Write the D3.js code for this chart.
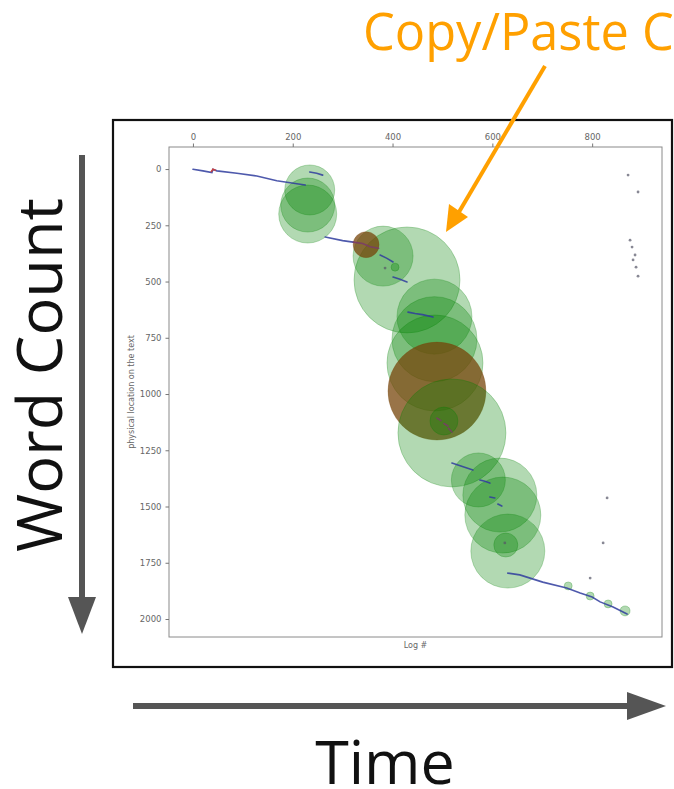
<!DOCTYPE html>
<html>
<head>
<meta charset="utf-8">
<script src="https://cdn.jsdelivr.net/npm/d3@7"></script>
<style>
html,body{margin:0;padding:0;background:#fff;}
svg{display:block;}
</style>
</head>
<body>
<svg id="chart" width="674" height="789"></svg>
<script>
// ---------- data ----------
const xTicks = [0, 200, 400, 600, 800];
const yTicks = [0, 250, 500, 750, 1000, 1250, 1500, 1750, 2000];
const xLabel = "Log #";
const yLabel = "physical location on the text";

// paste events: log #, location, size (chars), kind
const pasteLog  = [234, 230, 230, 381, 429, 484, 484, 485, 347, 489, 519, 503, 572, 615, 621, 631, 627, 405, 752, 796, 832, 866];
const pastePos  = [93, 160, 200, 387, 493, 656, 756, 862, 336, 987, 1173, 1120, 1382, 1449, 1538, 1698, 1671, 436, 1853, 1898, 1933, 1964];
const pasteSize = [625, 729, 841, 900, 2809, 1406, 1806, 2304, 169, 2401, 2916, 196, 729, 1369, 1444, 1369, 144, 16, 16, 16, 16, 25];
const pasteKind = ["internal","internal","internal","internal","internal","internal","internal","internal","external","external","internal","internal","internal","internal","internal","internal","internal","internal","internal","internal","internal","internal"];

// typing trace segments (log #, location)
const traceLog = [
  [0, 20, 38, 40, 48, 88, 128, 168, 225],
  [234, 248, 260],
  [265, 300, 321],
  [321, 340, 355, 372],
  [375, 388, 401],
  [401, 415, 429],
  [431, 445, 460, 481],
  [489, 497], [503, 511], [512, 519],
  [519, 540, 561],
  [575, 585, 595],
  [595, 605],
  [611, 619],
  [631, 655, 701, 749, 776, 800, 816, 842, 870]
];
const tracePos = [
  [1, 8, 16, 1, 8, 19, 31, 52, 71],
  [13, 19, 27],
  [302, 318, 325],
  [325, 331, 345, 352],
  [382, 396, 413],
  [480, 490, 502],
  [636, 642, 647, 658],
  [1107, 1118], [1131, 1142], [1152, 1169],
  [1307, 1322, 1338],
  [1382, 1388, 1396],
  [1458, 1462],
  [1489, 1498],
  [1796, 1804, 1836, 1862, 1884, 1902, 1924, 1947, 1978]
];
const traceKind = ["insert","insert","insert","delete","insert","insert","insert","delete","delete","delete","insert","insert","insert","insert","insert"];
// red bump inside first segment
const bumpLog = [36, 40, 46];
const bumpPos = [14, 1, 6];

// stray single log events
const strayLog = [872, 892, 876, 880, 886, 882, 888, 892, 830, 822, 796, 385, 625];
const strayPos = [27, 102, 316, 347, 382, 404, 436, 476, 1462, 1662, 1818, 440, 1662];

// ---------- drawing ----------
const svg = d3.select("#chart");
const plot = {left: 169, right: 662, top: 147, bottom: 637};
const x = d3.scaleLinear().domain([-48, 940]).range([plot.left, plot.right]);
const y = d3.scaleLinear().domain([-98, 2080]).range([plot.top, plot.bottom]);
const r = d3.scaleSqrt().domain([0, 2916]).range([0, 54]);

// outer black box
svg.append("rect").attr("x", 113).attr("y", 120).attr("width", 559).attr("height", 547)
  .attr("fill", "#fff").attr("stroke", "#111").attr("stroke-width", 2.2);

const g = svg.append("g");
svg.append("defs").append("clipPath").attr("id", "pc").append("rect")
  .attr("x", plot.left).attr("y", plot.top).attr("width", plot.right - plot.left).attr("height", plot.bottom - plot.top);

const marks = g.append("g").attr("clip-path", "url(#pc)");

// circles
const pasteColor = {internal: "rgb(0,128,0)", external: "rgb(118,68,8)"};
const pasteOpacity = {internal: 0.3, external: 0.74};
pasteLog.forEach((lx, i) => {
  marks.append("circle")
    .attr("cx", x(lx)).attr("cy", y(pastePos[i])).attr("r", r(pasteSize[i]))
    .attr("fill", pasteColor[pasteKind[i]]).attr("fill-opacity", pasteOpacity[pasteKind[i]])
    .attr("stroke", pasteColor[pasteKind[i]]).attr("stroke-opacity", 0.25).attr("stroke-width", 1);
});

// trace lines
const line = d3.line().x(d => x(d[0])).y(d => y(d[1]));
const traceColor = {insert: "#2f3c9e", delete: "#7a3a6a"};
traceLog.forEach((seg, i) => {
  const pts = seg.map((lx, j) => [lx, tracePos[i][j]]);
  marks.append("path").attr("d", line(pts)).attr("fill", "none")
    .attr("stroke", traceColor[traceKind[i]]).attr("stroke-width", 1.6).attr("stroke-opacity", 0.85)
    .attr("stroke-linecap", "round");
});
marks.append("path").attr("d", line(bumpLog.map((lx, j) => [lx, bumpPos[j]])))
  .attr("fill", "none").attr("stroke", "#c84040").attr("stroke-width", 1.5);

strayLog.forEach((lx, i) => {
  marks.append("circle").attr("cx", x(lx)).attr("cy", y(strayPos[i])).attr("r", 1.4)
    .attr("fill", "#556").attr("fill-opacity", 0.7);
});

// frame
g.append("rect").attr("x", plot.left).attr("y", plot.top)
  .attr("width", plot.right - plot.left).attr("height", plot.bottom - plot.top)
  .attr("fill", "none").attr("stroke", "#8a8a8a").attr("stroke-width", 1);

// axes
const axTop = d3.axisTop(x).tickValues(xTicks).tickFormat(d3.format("d")).tickSize(3.5).tickPadding(4);
const axLeft = d3.axisLeft(y).tickValues(yTicks).tickFormat(d3.format("d")).tickSize(3.5).tickPadding(4);
const gx = g.append("g").attr("transform", `translate(0,${plot.top})`).call(axTop);
const gy = g.append("g").attr("transform", `translate(${plot.left},0)`).call(axLeft);
[gx, gy].forEach(a => {
  a.select(".domain").remove();
  a.selectAll("line").attr("stroke", "#777");
  a.selectAll("text").attr("fill", "#666").style("font-family", "DejaVu Sans").style("font-size", "8.5px");
});

g.append("text").attr("x", (plot.left + plot.right) / 2).attr("y", 648).attr("text-anchor", "middle")
  .attr("fill", "#666").style("font-family", "DejaVu Sans").style("font-size", "8px").text(xLabel);
g.append("text").attr("transform", `translate(134,${(plot.top + plot.bottom) / 2}) rotate(-90)`)
  .attr("text-anchor", "middle").attr("fill", "#666").style("font-family", "DejaVu Sans").style("font-size", "8px").text(yLabel);

// ---------- annotations ----------
const grey = "#555";
// vertical arrow
svg.append("rect").attr("x", 79).attr("y", 155).attr("width", 6).attr("height", 445).attr("fill", grey);
svg.append("path").attr("d", "M68,597 L96,597 L82,634 Z").attr("fill", grey);
// horizontal arrow
svg.append("rect").attr("x", 133).attr("y", 703).attr("width", 497).attr("height", 6).attr("fill", grey);
svg.append("path").attr("d", "M627,692 L627,720 L666,706 Z").attr("fill", grey);

svg.append("text").attr("transform", "translate(62,375) rotate(-90)").attr("text-anchor", "middle")
  .style("font-family", "Open Sans").style("font-size", "63px").attr("fill", "#111").text("Word Count");
svg.append("text").attr("x", 385).attr("y", 784).attr("text-anchor", "middle")
  .style("font-family", "Open Sans").style("font-size", "61px").attr("fill", "#111").text("Time");

const orange = "#ffa000";
svg.append("text").attr("x", 363).attr("y", 50)
  .style("font-family", "Open Sans").style("font-size", "50.5px").attr("fill", orange).text("Copy/Paste C");
svg.append("line").attr("x1", 545).attr("y1", 66).attr("x2", 459).attr("y2", 212)
  .attr("stroke", orange).attr("stroke-width", 4);
svg.append("path").attr("d", "M446,232 L468,217 L449,204 Z").attr("fill", orange);
</script>
</body>
</html>
